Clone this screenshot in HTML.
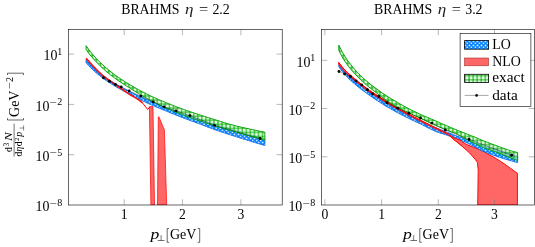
<!DOCTYPE html>
<html><head><meta charset="utf-8"><title>BRAHMS</title>
<style>
html,body{margin:0;padding:0;background:#fff;}
body{width:535px;height:247px;overflow:hidden;position:relative;font-family:"Liberation Serif",serif;color:#000;}
svg{position:absolute;left:0;top:0;will-change:transform;}
.t{position:absolute;white-space:nowrap;line-height:1;font-size:13.6px;}
.i{font-style:italic;}
</style></head><body>
<svg width="535" height="247" viewBox="0 0 535 247">
<defs>
<pattern id="dots" patternUnits="userSpaceOnUse" x="1.55" y="2.8" width="4.05" height="4.05">
<rect width="4.05" height="4.05" fill="#0080ff"/>
<circle cx="0" cy="0" r="0.85" fill="#fff"/><circle cx="4.05" cy="0" r="0.85" fill="#fff"/><circle cx="0" cy="4.05" r="0.85" fill="#fff"/><circle cx="4.05" cy="4.05" r="0.85" fill="#fff"/>
<circle cx="2.025" cy="2.025" r="0.85" fill="#fff"/>
</pattern>
<pattern id="grid" patternUnits="userSpaceOnUse" x="3.35" y="2.8" width="4.05" height="4.05">
<rect width="4.05" height="4.05" fill="#c8f2c8" fill-opacity="0.6"/>
<path d="M0 0H4.05M0 4.05H4.05M0 0V4.05M4.05 0V4.05" stroke="#00ac00" stroke-width="0.95" fill="none"/>
</pattern>
<clipPath id="cl"><rect x="68.5" y="29.5" width="213.7" height="175.5"/></clipPath>
<clipPath id="cr"><rect x="321.6" y="29.5" width="212.9" height="175.5"/></clipPath>
</defs>
<rect width="535" height="247" fill="#fff"/>

<g clip-path="url(#cl)"><polygon points="86.1,59.5 88.1,61.9 90.1,64.1 92.1,66.2 94.1,68.1 96.1,69.9 98.2,71.7 100.2,73.3 102.2,74.8 104.2,76.3 106.2,77.7 108.2,79.1 110.2,80.4 112.2,81.7 114.2,82.9 116.2,84.1 118.2,85.3 120.3,86.5 122.3,87.6 124.3,88.7 126.3,89.8 128.3,90.8 130.3,91.9 132.3,92.8 134.3,93.8 136.3,94.8 138.3,95.7 140.3,96.6 142.4,97.5 144.4,98.4 146.4,99.3 148.4,100.2 150.4,101.0 152.4,101.9 154.4,102.7 156.4,103.5 158.4,104.3 160.4,105.1 162.4,105.9 164.5,106.7 166.5,107.5 168.5,108.3 170.5,109.0 172.5,109.8 174.5,110.5 176.5,111.3 178.5,112.0 180.5,112.7 182.5,113.4 184.5,114.2 186.5,114.9 188.6,115.6 190.6,116.3 192.6,117.0 194.6,117.6 196.6,118.3 198.6,119.0 200.6,119.7 202.6,120.3 204.6,121.0 206.6,121.6 208.6,122.3 210.7,122.9 212.7,123.6 214.7,124.2 216.7,124.8 218.7,125.5 220.7,126.1 222.7,126.7 224.7,127.3 226.7,127.9 228.7,128.5 230.7,129.1 232.8,129.7 234.8,130.3 236.8,130.9 238.8,131.5 240.8,132.1 242.8,132.7 244.8,133.3 246.8,133.8 248.8,134.4 250.8,135.0 252.8,135.5 254.9,136.1 256.9,136.7 258.9,137.2 260.9,137.8 262.9,138.3 264.9,138.9 264.9,145.5 262.9,144.9 260.9,144.4 258.9,143.8 256.9,143.2 254.9,142.6 252.8,142.0 250.8,141.3 248.8,140.7 246.8,140.1 244.8,139.5 242.8,138.9 240.8,138.3 238.8,137.6 236.8,137.0 234.8,136.3 232.8,135.7 230.7,135.1 228.7,134.4 226.7,133.7 224.7,133.1 222.7,132.4 220.7,131.7 218.7,131.1 216.7,130.4 214.7,129.7 212.7,128.9 210.7,128.2 208.6,127.4 206.6,126.7 204.6,125.9 202.6,125.1 200.6,124.3 198.6,123.6 196.6,122.9 194.6,122.1 192.6,121.4 190.6,120.7 188.6,119.9 186.5,119.2 184.5,118.4 182.5,117.6 180.5,116.9 178.5,116.1 176.5,115.3 174.5,114.5 172.5,113.7 170.5,112.9 168.5,112.0 166.5,111.2 164.5,110.4 162.4,109.6 160.4,108.7 158.4,107.9 156.4,107.1 154.4,106.2 152.4,105.4 150.4,104.5 148.4,103.6 146.4,102.7 144.4,101.7 142.4,100.8 140.3,99.8 138.3,98.8 136.3,97.8 134.3,96.8 132.3,95.8 130.3,94.7 128.3,93.7 126.3,92.6 124.3,91.5 122.3,90.3 120.3,89.2 118.2,88.0 116.2,86.9 114.2,85.7 112.2,84.5 110.2,83.2 108.2,81.9 106.2,80.6 104.2,79.2 102.2,77.6 100.2,76.1 98.2,74.5 96.1,72.8 94.1,71.0 92.1,69.1 90.1,67.1 88.1,65.0 86.1,62.8" fill="url(#dots)" stroke="#0064e6" stroke-width="0.8"/><polyline points="86.1,58.3 87.5,59.9 89.0,61.5 90.4,63.1 91.9,64.7 93.3,66.2 94.8,67.8 96.2,69.4 97.7,70.8 99.1,72.2 100.6,73.6 102.0,74.8 103.5,76.0 104.9,77.2 106.4,78.3 107.8,79.3 109.3,80.4 110.7,81.4 112.2,82.3 113.6,83.4 115.1,84.4 116.5,85.4 118.0,86.5 119.4,87.5 120.9,88.5 122.3,89.4 123.8,90.4 125.2,91.3 126.7,92.3 128.1,93.3 129.6,94.3 131.0,95.2 132.5,96.1 133.9,96.9 135.4,97.7 136.8,98.6 138.3,99.6 139.7,100.6 141.2,101.8 142.6,103.0" fill="none" stroke="#ff1010" stroke-width="1.6"/><polyline points="142.6,103.0 147.6,109.5 149.9,106.7" fill="none" stroke="#ff0000" stroke-width="1.0" stroke-linejoin="round"/><polygon points="149.4,106.7 153.0,106.7 154.5,205 150.9,205" fill="#ff6666" stroke="#ff0000" stroke-width="0.7" stroke-linejoin="round"/><polygon points="158.3,117 158.9,116.7 164.4,130 166.7,205 157.5,205" fill="#ff6666" stroke="#ff0000" stroke-width="0.7" stroke-linejoin="round"/><polygon points="86.1,45.7 88.1,48.5 90.1,51.2 92.1,53.7 94.1,56.0 96.1,58.3 98.2,60.4 100.2,62.4 102.2,64.3 104.2,66.1 106.2,67.9 108.2,69.6 110.2,71.2 112.2,72.8 114.2,74.3 116.2,75.8 118.2,77.2 120.3,78.6 122.3,79.9 124.3,81.2 126.3,82.5 128.3,83.7 130.3,85.0 132.3,86.1 134.3,87.3 136.3,88.4 138.3,89.6 140.3,90.6 142.4,91.7 144.4,92.7 146.4,93.8 148.4,94.8 150.4,95.8 152.4,96.7 154.4,97.6 156.4,98.5 158.4,99.4 160.4,100.3 162.4,101.1 164.5,101.9 166.5,102.8 168.5,103.6 170.5,104.4 172.5,105.2 174.5,106.0 176.5,106.7 178.5,107.5 180.5,108.2 182.5,109.0 184.5,109.7 186.5,110.4 188.6,111.1 190.6,111.8 192.6,112.5 194.6,113.2 196.6,113.8 198.6,114.5 200.6,115.1 202.6,115.8 204.6,116.4 206.6,117.1 208.6,117.7 210.7,118.3 212.7,119.0 214.7,119.6 216.7,120.2 218.7,120.8 220.7,121.5 222.7,122.1 224.7,122.7 226.7,123.3 228.7,123.9 230.7,124.5 232.8,125.0 234.8,125.6 236.8,126.1 238.8,126.6 240.8,127.0 242.8,127.5 244.8,127.9 246.8,128.4 248.8,128.8 250.8,129.3 252.8,129.7 254.9,130.1 256.9,130.6 258.9,131.0 260.9,131.4 262.9,131.8 264.9,132.2 264.9,140.3 262.9,139.7 260.9,139.2 258.9,138.6 256.9,138.1 254.9,137.5 252.8,136.9 250.8,136.4 248.8,135.8 246.8,135.2 244.8,134.6 242.8,134.1 240.8,133.5 238.8,132.9 236.8,132.3 234.8,131.7 232.8,131.1 230.7,130.5 228.7,130.0 226.7,129.4 224.7,128.8 222.7,128.2 220.7,127.6 218.7,127.0 216.7,126.4 214.7,125.8 212.7,125.1 210.7,124.5 208.6,123.9 206.6,123.2 204.6,122.6 202.6,121.9 200.6,121.2 198.6,120.6 196.6,119.9 194.6,119.1 192.6,118.4 190.6,117.7 188.6,117.0 186.5,116.2 184.5,115.5 182.5,114.7 180.5,113.9 178.5,113.2 176.5,112.4 174.5,111.6 172.5,110.7 170.5,109.9 168.5,109.1 166.5,108.2 164.5,107.3 162.4,106.4 160.4,105.4 158.4,104.4 156.4,103.4 154.4,102.4 152.4,101.3 150.4,100.3 148.4,99.2 146.4,98.1 144.4,96.9 142.4,95.8 140.3,94.6 138.3,93.4 136.3,92.2 134.3,90.9 132.3,89.7 130.3,88.4 128.3,87.1 126.3,85.9 124.3,84.6 122.3,83.3 120.3,82.0 118.2,80.6 116.2,79.2 114.2,77.7 112.2,76.2 110.2,74.7 108.2,73.1 106.2,71.4 104.2,69.6 102.2,67.8 100.2,65.9 98.2,63.9 96.1,61.8 94.1,59.6 92.1,57.4 90.1,55.0 88.1,52.4 86.1,49.5" fill="url(#grid)" stroke="#00a000" stroke-width="0.95"/><polyline points="103.4,77.7 109.4,81.2 115.5,84.4 121.2,86.9 129.2,90.9 140.9,96.1 153.3,101.9 164.0,107.0 175.9,111.0 189.9,115.6 214.5,125.4 260.1,138.5" fill="none" stroke="#000" stroke-width="0.3"/><circle cx="103.4" cy="77.7" r="1.45" fill="#000"/><circle cx="109.4" cy="81.2" r="1.45" fill="#000"/><circle cx="115.5" cy="84.4" r="1.45" fill="#000"/><circle cx="121.2" cy="86.9" r="1.45" fill="#000"/><circle cx="129.2" cy="90.9" r="1.45" fill="#000"/><circle cx="140.9" cy="96.1" r="1.45" fill="#000"/><circle cx="153.3" cy="101.9" r="1.45" fill="#000"/><circle cx="164" cy="107" r="1.45" fill="#000"/><circle cx="175.9" cy="111" r="1.45" fill="#000"/><circle cx="189.9" cy="115.6" r="1.45" fill="#000"/><circle cx="214.5" cy="125.4" r="1.45" fill="#000"/><circle cx="260.1" cy="138.5" r="1.45" fill="#000"/></g>
<g clip-path="url(#cr)"><polygon points="338.8,62.6 341.6,66.3 344.4,69.4 347.2,72.3 350.0,74.8 352.8,77.4 355.7,79.8 358.5,82.1 361.3,84.3 364.1,86.4 366.9,88.5 369.7,90.5 372.5,92.4 375.3,94.3 378.1,96.1 380.9,98.0 383.8,99.7 386.6,101.4 389.4,103.1 392.2,104.8 395.0,106.5 397.8,108.1 400.6,109.7 403.4,111.2 406.2,112.8 409.0,114.3 411.9,115.8 414.7,117.3 417.5,118.7 420.3,120.2 423.1,121.6 425.9,123.0 428.7,124.4 431.5,125.8 434.3,127.2 437.1,128.5 440.0,129.9 442.8,131.2 445.6,132.5 448.4,133.8 451.2,135.1 454.0,136.3 466.2,144.3 482.4,150.7 485,152.3 493.1,156.8 501.2,161.7 509.3,167.4 517.4,173.3 517.4,205 477.7,205 478.2,170 477.4,162.4 475,159.1 469.3,152.7 461.2,145.4 453.1,138.9 454.0,137.2 451.2,136.0 448.4,134.7 445.6,133.4 442.8,132.1 440.0,130.8 437.1,129.4 434.3,128.1 431.5,126.7 428.7,125.3 425.9,123.9 423.1,122.5 420.3,121.1 417.5,119.6 414.7,118.2 411.9,116.7 409.0,115.2 406.2,113.7 403.4,112.1 400.6,110.6 397.8,109.0 395.0,107.4 392.2,105.8 389.4,104.2 386.6,102.5 383.8,100.8 380.9,99.1 378.1,97.4 375.3,95.6 372.5,93.7 369.7,91.8 366.9,89.9 364.1,87.8 361.3,85.7 358.5,83.5 355.7,81.3 352.8,78.9 350.0,76.3 347.2,73.8 344.4,71.0 341.6,67.9 338.8,64.2" fill="#ff6666" stroke="#ff0000" stroke-width="0.95" stroke-linejoin="round"/><polygon points="338.8,64.9 340.8,67.2 342.8,69.5 344.8,71.6 346.8,73.7 348.8,75.7 350.9,77.6 352.9,79.4 354.9,81.2 356.9,82.9 358.9,84.5 360.9,86.1 362.9,87.7 364.9,89.2 366.9,90.7 368.9,92.1 370.9,93.5 373.0,94.9 375.0,96.3 377.0,97.6 379.0,98.9 381.0,100.1 383.0,101.4 385.0,102.6 387.0,103.8 389.0,104.9 391.0,106.1 393.0,107.2 395.1,108.3 397.1,109.4 399.1,110.5 401.1,111.5 403.1,112.6 405.1,113.6 407.1,114.6 409.1,115.6 411.1,116.6 413.1,117.5 415.1,118.5 417.2,119.4 419.2,120.4 421.2,121.3 423.2,122.2 425.2,123.1 427.2,124.0 429.2,124.8 431.2,125.7 433.2,126.5 435.2,127.4 437.2,128.2 439.2,129.1 441.3,129.9 443.3,130.7 445.3,131.5 447.3,132.3 449.3,133.0 451.3,133.8 453.3,134.6 455.3,135.4 457.3,136.1 459.3,136.8 461.3,137.6 463.4,138.3 465.4,139.0 467.4,139.8 469.4,140.5 471.4,141.2 473.4,141.9 475.4,142.6 477.4,143.3 479.4,143.9 481.4,144.6 483.4,145.3 485.5,146.0 487.5,146.6 489.5,147.3 491.5,147.9 493.5,148.6 495.5,149.2 497.5,149.8 499.5,150.5 501.5,151.1 503.5,151.7 505.5,152.3 507.6,153.0 509.6,153.6 511.6,154.2 513.6,154.8 515.6,155.4 517.6,156.0 517.6,162.6 515.6,162.1 513.6,161.5 511.6,160.9 509.6,160.4 507.6,159.8 505.5,159.2 503.5,158.6 501.5,158.0 499.5,157.3 497.5,156.7 495.5,156.0 493.5,155.3 491.5,154.6 489.5,153.8 487.5,153.0 485.5,152.2 483.4,151.4 481.4,150.5 479.4,149.4 477.4,148.3 475.4,147.2 473.4,146.2 471.4,145.2 469.4,144.1 467.4,143.1 465.4,142.2 463.4,141.4 461.3,140.5 459.3,139.7 457.3,138.9 455.3,138.1 453.3,137.4 451.3,136.7 449.3,136.0 447.3,135.3 445.3,134.7 443.3,134.0 441.3,133.4 439.2,132.7 437.2,132.1 435.2,131.3 433.2,130.3 431.2,129.4 429.2,128.4 427.2,127.4 425.2,126.4 423.2,125.4 421.2,124.3 419.2,123.3 417.2,122.4 415.1,121.5 413.1,120.5 411.1,119.6 409.1,118.6 407.1,117.6 405.1,116.6 403.1,115.6 401.1,114.6 399.1,113.6 397.1,112.5 395.1,111.4 393.0,110.2 391.0,109.1 389.0,107.9 387.0,106.8 385.0,105.6 383.0,104.3 381.0,103.1 379.0,101.8 377.0,100.5 375.0,99.2 373.0,97.8 370.9,96.4 368.9,95.0 366.9,93.5 364.9,92.0 362.9,90.6 360.9,89.1 358.9,87.5 356.9,85.9 354.9,84.2 352.9,82.5 350.9,80.7 348.8,78.8 346.8,76.7 344.8,74.5 342.8,72.2 340.8,69.6 338.8,66.7" fill="url(#dots)" stroke="#0064e6" stroke-width="0.8"/><polygon points="338.8,62.6 341.6,66.3 344.4,69.4 347.2,72.3 350.0,74.8 352.8,77.4 355.7,79.8 358.5,82.1 361.3,84.3 364.1,86.4 366.9,88.5 369.7,90.5 372.5,92.4 375.3,94.3 378.1,96.1 380.9,98.0 383.8,99.7 386.6,101.4 389.4,103.1 392.2,104.8 395.0,106.5 397.8,108.1 400.6,109.7 403.4,111.2 406.2,112.8 409.0,114.3 411.9,115.8 414.7,117.3 417.5,118.7 420.3,120.2 423.1,121.6 425.9,123.0 428.7,124.4 431.5,125.8 434.3,127.2 437.1,128.5 440.0,129.9 442.8,131.2 445.6,132.5 448.4,133.8 453.0,137.5 456.0,138.5 459.0,139.8 462.0,141.0 462.0,146.1 459.0,143.6 456.0,141.2 453.0,138.9 448.4,134.7 445.6,133.4 442.8,132.1 440.0,130.8 437.1,129.4 434.3,128.1 431.5,126.7 428.7,125.3 425.9,123.9 423.1,122.5 420.3,121.1 417.5,119.6 414.7,118.2 411.9,116.7 409.0,115.2 406.2,113.7 403.4,112.1 400.6,110.6 397.8,109.0 395.0,107.4 392.2,105.8 389.4,104.2 386.6,102.5 383.8,100.8 380.9,99.1 378.1,97.4 375.3,95.6 372.5,93.7 369.7,91.8 366.9,89.9 364.1,87.8 361.3,85.7 358.5,83.5 355.7,81.3 352.8,78.9 350.0,76.3 347.2,73.8 344.4,71.0 341.6,67.9 338.8,64.2" fill="#ff6666" stroke="none"/><polyline points="338.8,62.6 341.6,66.3 344.4,69.4 347.2,72.3 350.0,74.8 352.8,77.4 355.7,79.8 358.5,82.1 361.3,84.3 364.1,86.4 366.9,88.5 369.7,90.5 372.5,92.4 375.3,94.3 378.1,96.1 380.9,98.0 383.8,99.7 386.6,101.4 389.4,103.1 392.2,104.8 395.0,106.5 397.8,108.1 400.6,109.7 403.4,111.2 406.2,112.8 409.0,114.3 411.9,115.8 414.7,117.3 417.5,118.7 420.3,120.2 423.1,121.6 425.9,123.0 428.7,124.4 431.5,125.8 434.3,127.2 437.1,128.5 440.0,129.9 442.8,131.2 445.6,132.5 448.4,133.8 453.0,137.5 456.0,138.5 459.0,139.8 462.0,141.0" fill="none" stroke="#ff0000" stroke-width="0.95"/><polyline points="338.8,64.2 341.6,67.9 344.4,71.0 347.2,73.8 350.0,76.3 352.8,78.9 355.7,81.3 358.5,83.5 361.3,85.7 364.1,87.8 366.9,89.9 369.7,91.8 372.5,93.7 375.3,95.6 378.1,97.4 380.9,99.1 383.8,100.8 386.6,102.5 389.4,104.2 392.2,105.8 395.0,107.4 397.8,109.0 400.6,110.6 403.4,112.1 406.2,113.7 409.0,115.2 411.9,116.7 414.7,118.2 417.5,119.6 420.3,121.1 423.1,122.5 425.9,123.9 428.7,125.3 431.5,126.7 434.3,128.1 437.1,129.4 440.0,130.8 442.8,132.1 445.6,133.4 448.4,134.7 453.0,138.9 456.0,141.2 459.0,143.6 462.0,146.1" fill="none" stroke="#ff0000" stroke-width="0.95"/><polyline points="338.8,62.6 338.8,64.2" fill="none" stroke="#ff0000" stroke-width="0.95"/><polygon points="338.8,45.1 340.8,49.2 342.8,52.9 344.8,56.2 346.8,59.3 348.8,62.1 350.9,64.7 352.9,67.2 354.9,69.5 356.9,71.8 358.9,73.9 360.9,75.9 362.9,77.8 364.9,79.6 366.9,81.3 368.9,83.0 370.9,84.6 373.0,86.2 375.0,87.7 377.0,89.2 379.0,90.6 381.0,92.1 383.0,93.5 385.0,94.8 387.0,96.1 389.0,97.4 391.0,98.6 393.0,99.8 395.1,101.0 397.1,102.2 399.1,103.4 401.1,104.5 403.1,105.6 405.1,106.7 407.1,107.8 409.1,108.8 411.1,109.9 413.1,110.9 415.1,111.8 417.2,112.8 419.2,113.8 421.2,114.7 423.2,115.6 425.2,116.5 427.2,117.3 429.2,118.1 431.2,119.0 433.2,119.8 435.2,120.7 437.2,121.6 439.2,122.5 441.3,123.4 443.3,124.3 445.3,125.1 447.3,126.0 449.3,126.9 451.3,127.7 453.3,128.6 455.3,129.4 457.3,130.2 459.3,131.0 461.3,131.8 463.4,132.6 465.4,133.4 467.4,134.2 469.4,135.0 471.4,135.8 473.4,136.5 475.4,137.3 477.4,138.2 479.4,139.1 481.4,140.0 483.4,140.8 485.5,141.6 487.5,142.3 489.5,143.1 491.5,143.9 493.5,144.6 495.5,145.3 497.5,146.1 499.5,146.8 501.5,147.5 503.5,148.3 505.5,149.0 507.6,149.7 509.6,150.4 511.6,151.0 513.6,151.5 515.6,152.0 517.6,152.5 517.6,160.6 515.6,159.8 513.6,159.0 511.6,158.2 509.6,157.4 507.6,156.6 505.5,155.8 503.5,154.9 501.5,154.1 499.5,153.3 497.5,152.6 495.5,151.9 493.5,151.2 491.5,150.5 489.5,149.8 487.5,149.1 485.5,148.3 483.4,147.5 481.4,146.6 479.4,145.6 477.4,144.7 475.4,143.7 473.4,142.8 471.4,141.9 469.4,140.9 467.4,139.8 465.4,138.7 463.4,137.6 461.3,136.5 459.3,135.3 457.3,134.2 455.3,133.2 453.3,132.5 451.3,131.8 449.3,131.0 447.3,130.3 445.3,129.5 443.3,128.7 441.3,127.8 439.2,126.9 437.2,126.1 435.2,125.2 433.2,124.3 431.2,123.4 429.2,122.5 427.2,121.5 425.2,120.6 423.2,119.6 421.2,118.7 419.2,117.7 417.2,116.8 415.1,115.8 413.1,114.8 411.1,113.8 409.1,112.8 407.1,111.9 405.1,111.0 403.1,110.0 401.1,109.1 399.1,108.0 397.1,106.9 395.1,105.7 393.0,104.5 391.0,103.3 389.0,102.0 387.0,100.8 385.0,99.5 383.0,98.0 381.0,96.4 379.0,94.9 377.0,93.3 375.0,91.7 373.0,90.1 370.9,88.6 368.9,87.0 366.9,85.3 364.9,83.6 362.9,81.8 360.9,79.9 358.9,78.0 356.9,76.0 354.9,73.9 352.9,71.7 350.9,69.3 348.8,66.8 346.8,64.1 344.8,61.2 342.8,58.0 340.8,54.4 338.8,50.3" fill="url(#grid)" stroke="#00a000" stroke-width="0.95"/><polyline points="339.0,71.5 344.6,74.0 350.4,76.5 356.0,80.9 361.7,84.9 367.4,89.8 372.5,93.8 378.9,96.5 387.0,102.7 397.8,108.3 408.8,113.2 420.5,118.1 431.8,123.1 445.3,129.9 469.1,139.4 511.7,155.2" fill="none" stroke="#000" stroke-width="0.3"/><circle cx="339" cy="71.5" r="1.45" fill="#000"/><circle cx="344.6" cy="74" r="1.45" fill="#000"/><circle cx="350.4" cy="76.5" r="1.45" fill="#000"/><circle cx="356" cy="80.9" r="1.45" fill="#000"/><circle cx="361.7" cy="84.9" r="1.45" fill="#000"/><circle cx="367.4" cy="89.8" r="1.45" fill="#000"/><circle cx="372.5" cy="93.8" r="1.45" fill="#000"/><circle cx="378.9" cy="96.5" r="1.45" fill="#000"/><circle cx="387" cy="102.7" r="1.45" fill="#000"/><circle cx="397.8" cy="108.3" r="1.45" fill="#000"/><circle cx="408.8" cy="113.2" r="1.45" fill="#000"/><circle cx="420.5" cy="118.1" r="1.45" fill="#000"/><circle cx="431.8" cy="123.1" r="1.45" fill="#000"/><circle cx="445.3" cy="129.9" r="1.45" fill="#000"/><circle cx="469.1" cy="139.4" r="1.45" fill="#000"/><circle cx="511.7" cy="155.2" r="1.45" fill="#000"/></g>
<path d="M124.2 205v-5.7M124.2 29.5v5.7M182.4 205v-5.7M182.4 29.5v5.7M240.9 205v-5.7M240.9 29.5v5.7M68.5 54.1h5.7M282.2 54.1h-5.7M68.5 104.4h5.7M282.2 104.4h-5.7M68.5 154.7h5.7M282.2 154.7h-5.7M324.9 205v-5.7M324.9 29.5v5.7M381.6 205v-5.7M381.6 29.5v5.7M438.3 205v-5.7M438.3 29.5v5.7M494.5 205v-5.7M494.5 29.5v5.7M321.6 60.3h5.7M534.5 60.3h-5.7M321.6 108.5h5.7M534.5 108.5h-5.7M321.6 156.8h5.7M534.5 156.8h-5.7" stroke="#707070" stroke-width="0.5" fill="none"/>
<rect x="68.5" y="29.5" width="213.7" height="175.5" fill="none" stroke="#000" stroke-width="0.6"/>
<rect x="321.6" y="29.5" width="212.9" height="175.5" fill="none" stroke="#000" stroke-width="0.6"/>
<rect x="460.1" y="33.5" width="70.8" height="73" fill="#fff" stroke="#000" stroke-width="0.6"/>
<rect x="464.6" y="40.6" width="24" height="8.6" fill="url(#dots)" stroke="#000" stroke-width="0.8"/>
<rect x="464.6" y="58.0" width="24" height="7.8" fill="#ff6666" stroke="#a03030" stroke-width="0.6"/>
<rect x="464.6" y="74.3" width="24" height="8.2" fill="url(#grid)" stroke="#000" stroke-width="0.8"/>
<path d="M464.6 95.4h24" stroke="#000" stroke-width="0.35"/><circle cx="476.6" cy="95.4" r="1.3" fill="#000"/>
<g font-family="Liberation Serif" fill="#000">
<text x="121.2" y="13.9" font-size="13.6" textLength="58.3" lengthAdjust="spacingAndGlyphs">BRAHMS</text>
<text x="185.0" y="13.9" font-size="13.6" font-style="italic" textLength="8.5" lengthAdjust="spacingAndGlyphs" fill="#222">η</text>
<text x="199.0" y="13.9" font-size="13.6" textLength="9.2" lengthAdjust="spacingAndGlyphs">=</text>
<text x="212.4" y="13.9" font-size="13.6" textLength="17.4" lengthAdjust="spacingAndGlyphs">2.2</text>
<text x="374.0" y="13.9" font-size="13.6" textLength="58.3" lengthAdjust="spacingAndGlyphs">BRAHMS</text>
<text x="437.8" y="13.9" font-size="13.6" font-style="italic" textLength="8.5" lengthAdjust="spacingAndGlyphs" fill="#222">η</text>
<text x="451.8" y="13.9" font-size="13.6" textLength="9.2" lengthAdjust="spacingAndGlyphs">=</text>
<text x="465.20000000000005" y="13.9" font-size="13.6" textLength="17.4" lengthAdjust="spacingAndGlyphs">3.2</text>
<text x="43.599999999999994" y="60.4" font-size="13.6" textLength="13.9" lengthAdjust="spacingAndGlyphs">10</text>
<text x="57.3" y="54.9" font-size="10">1</text>
<text x="35.5" y="110.7" font-size="13.6" textLength="13.9" lengthAdjust="spacingAndGlyphs">10</text>
<text x="49.599999999999994" y="106.10000000000001" font-size="9.5" textLength="7.4" lengthAdjust="spacingAndGlyphs">−</text>
<text x="57.3" y="105.2" font-size="10">2</text>
<text x="35.5" y="161.0" font-size="13.6" textLength="13.9" lengthAdjust="spacingAndGlyphs">10</text>
<text x="49.599999999999994" y="156.4" font-size="9.5" textLength="7.4" lengthAdjust="spacingAndGlyphs">−</text>
<text x="57.3" y="155.5" font-size="10">5</text>
<text x="35.5" y="211.3" font-size="13.6" textLength="13.9" lengthAdjust="spacingAndGlyphs">10</text>
<text x="49.599999999999994" y="206.70000000000002" font-size="9.5" textLength="7.4" lengthAdjust="spacingAndGlyphs">−</text>
<text x="57.3" y="205.8" font-size="10">8</text>
<text x="296.5" y="66.6" font-size="13.6" textLength="13.9" lengthAdjust="spacingAndGlyphs">10</text>
<text x="310.2" y="61.099999999999994" font-size="10">1</text>
<text x="288.40000000000003" y="114.8" font-size="13.6" textLength="13.9" lengthAdjust="spacingAndGlyphs">10</text>
<text x="302.5" y="110.2" font-size="9.5" textLength="7.4" lengthAdjust="spacingAndGlyphs">−</text>
<text x="310.2" y="109.3" font-size="10">2</text>
<text x="288.40000000000003" y="163.10000000000002" font-size="13.6" textLength="13.9" lengthAdjust="spacingAndGlyphs">10</text>
<text x="302.5" y="158.50000000000003" font-size="9.5" textLength="7.4" lengthAdjust="spacingAndGlyphs">−</text>
<text x="310.2" y="157.60000000000002" font-size="10">5</text>
<text x="288.40000000000003" y="211.3" font-size="13.6" textLength="13.9" lengthAdjust="spacingAndGlyphs">10</text>
<text x="302.5" y="206.70000000000002" font-size="9.5" textLength="7.4" lengthAdjust="spacingAndGlyphs">−</text>
<text x="310.2" y="205.8" font-size="10">8</text>
<text x="124.2" y="218.9" font-size="13.6" text-anchor="middle">1</text>
<text x="182.4" y="218.9" font-size="13.6" text-anchor="middle">2</text>
<text x="240.9" y="218.9" font-size="13.6" text-anchor="middle">3</text>
<text x="324.9" y="218.9" font-size="13.6" text-anchor="middle">0</text>
<text x="381.6" y="218.9" font-size="13.6" text-anchor="middle">1</text>
<text x="438.3" y="218.9" font-size="13.6" text-anchor="middle">2</text>
<text x="494.5" y="218.9" font-size="13.6" text-anchor="middle">3</text>
<text x="150.4" y="239.1" font-size="13.6" font-style="italic" textLength="8.8" lengthAdjust="spacingAndGlyphs">p</text>
<path d="M157.7 240.5h6.8M161.1 240.5v-5.3" stroke="#000" stroke-width="0.55" fill="none"/>
<path d="M169.1 228.5H167.2V242.3H169.1M197.7 228.5H199.7V242.3H197.7" stroke="#000" stroke-width="0.6" fill="none"/>
<text x="170.0" y="239.1" font-size="13.6" textLength="26.4" lengthAdjust="spacingAndGlyphs">GeV</text>
<text x="403.0" y="239.1" font-size="13.6" font-style="italic" textLength="8.8" lengthAdjust="spacingAndGlyphs">p</text>
<path d="M410.29999999999995 240.5h6.8M413.7 240.5v-5.3" stroke="#000" stroke-width="0.55" fill="none"/>
<path d="M421.7 228.5H419.79999999999995V242.3H421.7M450.29999999999995 228.5H452.29999999999995V242.3H450.29999999999995" stroke="#000" stroke-width="0.6" fill="none"/>
<text x="422.6" y="239.1" font-size="13.6" textLength="26.4" lengthAdjust="spacingAndGlyphs">GeV</text>
<text x="492.2" y="48.6" font-size="13.6" textLength="18.5" lengthAdjust="spacingAndGlyphs">LO</text>
<text x="492.2" y="65.6" font-size="13.6" textLength="28.5" lengthAdjust="spacingAndGlyphs">NLO</text>
<text x="492.2" y="82.3" font-size="13.6" textLength="32.5" lengthAdjust="spacingAndGlyphs">exact</text>
<text x="492.2" y="99.5" font-size="13.6" textLength="25.5" lengthAdjust="spacingAndGlyphs">data</text>
<path d="M7.5 118.2V120H23.5V118.2M7.5 75V73.2H23.5V75" stroke="#000" stroke-width="0.6" fill="none"/>
</g>
<g font-family="Liberation Serif" fill="#000" transform="translate(0,0) rotate(-90)">
<text x="-117.0" y="19.0" font-size="14.4" textLength="26.5" lengthAdjust="spacingAndGlyphs">GeV</text>
<text x="-89.0" y="13.3" font-size="10" textLength="7.0" lengthAdjust="spacingAndGlyphs">−</text>
<text x="-82.0" y="13.3" font-size="10">2</text>
<path d="M-156.6 14.1H-123.6" stroke="#000" stroke-width="0.55"/>
<text x="-151.9" y="12.1" font-size="9.6">d</text>
<text x="-146.6" y="8.6" font-size="7.4">3</text>
<text x="-141.0" y="12.1" font-size="9.6" font-style="italic" textLength="8.8" lengthAdjust="spacingAndGlyphs">N</text>
<text x="-156.6" y="22.3" font-size="9.6">d</text>
<text x="-151.6" y="22.3" font-size="9.6" font-style="italic">η</text>
<text x="-146.2" y="22.3" font-size="9.6">d</text>
<text x="-141.0" y="18.6" font-size="7">2</text>
<text x="-136.8" y="22.3" font-size="9.6" font-style="italic">p</text>
<path d="M-130.6 23.6h5.2M-128.0 23.6v-4.0" stroke="#000" stroke-width="0.45" fill="none"/>
</g>
</svg>
</body></html>
